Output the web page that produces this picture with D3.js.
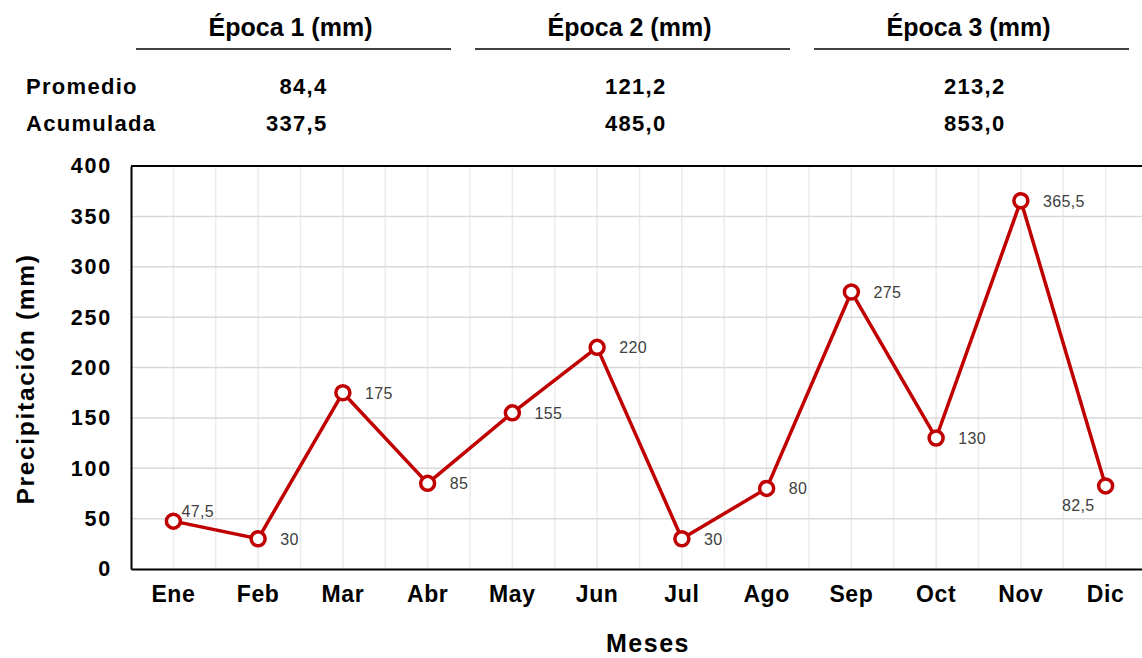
<!DOCTYPE html>
<html>
<head>
<meta charset="utf-8">
<script src="https://cdn.jsdelivr.net/npm/d3@7"></script>
<style>
  body { margin: 0; background: #fff; }
  svg { display: block; font-family: "Liberation Sans", Arial, sans-serif; }
</style>
</head>
<body>
<svg id="chart" width="1142" height="658"></svg>
<script>
// ── Data ──────────────────────────────────────────────────────────────────
const MONTHS = ["Ene", "Feb", "Mar", "Abr", "May", "Jun", "Jul", "Ago", "Sep", "Oct", "Nov", "Dic"];
const RAIN   = [47.5, 30, 175, 85, 155, 220, 30, 80, 275, 130, 365.5, 82.5];
const RAIN_LABELS = ["47,5", "30", "175", "85", "155", "220", "30", "80", "275", "130", "365,5", "82,5"];

const EPOCAS      = ["Época 1 (mm)", "Época 2 (mm)", "Época 3 (mm)"];
const EPOCA_START = ["Ene", "May", "Sep"];
const EPOCA_END   = ["Abr", "Ago", "Dic"];
const ROW_NAMES   = ["Promedio", "Acumulada"];
const PROMEDIO    = ["84,4", "121,2", "213,2"];
const ACUMULADA   = ["337,5", "485,0", "853,0"];

const Y_TICKS = [0, 50, 100, 150, 200, 250, 300, 350, 400];

const RED = "#c00000";

// ── Layout ────────────────────────────────────────────────────────────────
const plot = { left: 131, top: 166, bottom: 569, right: 1148 };

const svg = d3.select("#chart");

const x = d3.scaleBand().domain(MONTHS).range([plot.left, plot.right]).padding(0);
const bw = x.bandwidth();
const cx = m => x(m) + bw / 2;
const y = d3.scaleLinear().domain([0, 400]).range([plot.bottom, plot.top]);

// ── Grid ──────────────────────────────────────────────────────────────────
const grid = svg.append("g");

// vertical: at month centres and month boundaries
const vLines = [];
MONTHS.forEach((m, i) => {
    if (i > 0) vLines.push(x(m));
    vLines.push(cx(m));
});
grid.selectAll("line.v").data(vLines).join("line")
    .attr("class", "v")
    .attr("x1", d => d).attr("x2", d => d)
    .attr("y1", plot.top).attr("y2", plot.bottom)
    .attr("stroke", "#ebebeb").attr("stroke-width", 1.5);

grid.selectAll("line.h").data(Y_TICKS.filter(t => t > 0 && t < 400)).join("line")
    .attr("class", "h")
    .attr("x1", plot.left).attr("x2", plot.right)
    .attr("y1", d => y(d)).attr("y2", d => y(d))
    .attr("stroke", "#d9d9d9").attr("stroke-width", 1.5);

// ── Series ────────────────────────────────────────────────────────────────
const pts = MONTHS.map((m, i) => ({ m, v: RAIN[i], label: RAIN_LABELS[i] }));

svg.append("path")
    .datum(pts)
    .attr("fill", "none")
    .attr("stroke", RED)
    .attr("stroke-width", 3.5)
    .attr("stroke-linejoin", "round")
    .attr("d", d3.line().x(d => cx(d.m)).y(d => y(d.v)));

svg.append("g").selectAll("circle").data(pts).join("circle")
    .attr("cx", d => cx(d.m)).attr("cy", d => y(d.v))
    .attr("r", 7)
    .attr("fill", "#fff")
    .attr("stroke", RED)
    .attr("stroke-width", 3.5);

// label placement: most to the right, a couple moved like in the original
const placement = { Ene: "aboveRight", Dic: "belowLeft" };
svg.append("g").selectAll("text").data(pts).join("text")
    .attr("x", d => {
        const p = placement[d.m];
        if (p === "aboveRight") return cx(d.m) + 8;
        if (p === "belowLeft") return cx(d.m) - 11;
        return cx(d.m) + 22;
    })
    .attr("y", d => {
        const p = placement[d.m];
        if (p === "aboveRight") return y(d.v) - 4;
        if (p === "belowLeft") return y(d.v) + 25;
        return y(d.v) + 6;
    })
    .attr("text-anchor", d => placement[d.m] === "belowLeft" ? "end" : "start")
    .attr("font-size", 16)
    .attr("letter-spacing", 0.4)
    .attr("fill", "#404040")
    .text(d => d.label);

// ── Axes ──────────────────────────────────────────────────────────────────
const yAxis = svg.append("g")
    .attr("transform", `translate(${plot.left},0)`)
    .call(d3.axisLeft(y).tickValues(Y_TICKS).tickSize(0).tickPadding(19));
yAxis.selectAll("text")
    .attr("font-size", 21.5).attr("font-weight", "bold")
    .attr("letter-spacing", 1.8).attr("fill", "#000");
yAxis.select(".domain").attr("stroke", "#000").attr("stroke-width", 2);

const xAxis = svg.append("g")
    .attr("transform", `translate(0,${plot.bottom})`)
    .call(d3.axisBottom(x).tickSize(0).tickPadding(17));
xAxis.selectAll("text")
    .attr("font-size", 23).attr("font-weight", "bold")
    .attr("letter-spacing", 0.6).attr("fill", "#000");
xAxis.select(".domain").attr("stroke", "#000").attr("stroke-width", 2);

// top border
svg.append("line")
    .attr("x1", plot.left).attr("x2", plot.right)
    .attr("y1", plot.top).attr("y2", plot.top)
    .attr("stroke", "#000").attr("stroke-width", 2);

// axis titles
svg.append("text")
    .attr("transform", `translate(34,379) rotate(-90)`)
    .attr("text-anchor", "middle")
    .attr("font-size", 24.5).attr("font-weight", "bold")
    .attr("letter-spacing", 1.7)
    .text("Precipitación (mm)");

svg.append("text")
    .attr("x", 648).attr("y", 652)
    .attr("text-anchor", "middle")
    .attr("font-size", 25).attr("font-weight", "bold")
    .attr("letter-spacing", 1.5)
    .text("Meses");

// ── Summary table above the chart ─────────────────────────────────────────
const head = svg.append("g");
EPOCAS.forEach((name, i) => {
    const x0 = x(EPOCA_START[i]) + 5;
    const x1 = x(EPOCA_END[i]) + bw - 19;
    const mid = (x0 + x1) / 2;

    head.append("text")
        .attr("x", mid - 3).attr("y", 36)
        .attr("text-anchor", "middle")
        .attr("font-size", 25).attr("font-weight", "bold")
        .text(name);
    head.append("line")
        .attr("x1", x0).attr("x2", x1)
        .attr("y1", 49).attr("y2", 49)
        .attr("stroke", "#000").attr("stroke-width", 1.5);

    [PROMEDIO[i], ACUMULADA[i]].forEach((val, r) => {
        head.append("text")
            .attr("x", mid + 34).attr("y", r === 0 ? 94 : 131)
            .attr("text-anchor", "end")
            .attr("font-size", 22).attr("font-weight", "bold")
            .attr("letter-spacing", 1.3)
            .text(val);
    });
});

ROW_NAMES.forEach((name, r) => {
    head.append("text")
        .attr("x", 26).attr("y", r === 0 ? 94 : 131)
        .attr("font-size", 22).attr("font-weight", "bold")
        .attr("letter-spacing", 1.3)
        .text(name);
});
</script>
</body>
</html>
